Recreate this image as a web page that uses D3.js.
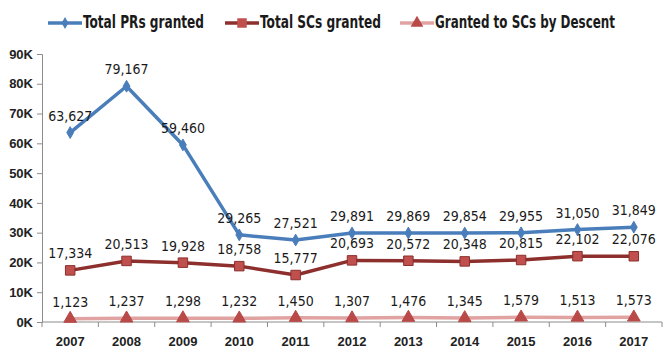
<!DOCTYPE html>
<html><head><meta charset="utf-8">
<script src="https://cdn.jsdelivr.net/npm/d3@7"></script>
<style>
body{margin:0;background:#fff;}
svg{display:block;}
text{font-family:"Liberation Sans Narrow","DejaVu Sans Condensed","Liberation Sans",sans-serif;}
</style></head><body>
<svg id="c" width="666" height="357"></svg>
<script>
const years = ["2007","2008","2009","2010","2011","2012","2013","2014","2015","2016","2017"];
const totalPRs = [63627,79167,59460,29265,27521,29891,29869,29854,29955,31050,31849];
const totalSCs = [17334,20513,19928,18758,15777,20693,20572,20348,20815,22102,22076];
const scsByDescent = [1123,1237,1298,1232,1450,1307,1476,1345,1579,1513,1573];
const yTicks = [0,10000,20000,30000,40000,50000,60000,70000,80000,90000];
const seriesNames = ["Total PRs granted","Total SCs granted","Granted to SCs by Descent"];

const svg = d3.select("#c");
const x = d3.scaleBand().domain(years).range([42,662]).padding(0);
const y = d3.scaleLinear().domain([0,90000]).range([322,54]);

// y axis
const ya = svg.append("g").attr("transform","translate(42,0)")
  .call(d3.axisLeft(y).tickValues(yTicks).tickSize(5).tickPadding(4)
    .tickFormat(d=>(d/1000)+"K"));
ya.selectAll("path,line").attr("stroke","#8c8c8c");
ya.selectAll("text").attr("font-size",13).attr("font-weight","bold").attr("fill","#222")
  .style("font-family","'Liberation Sans',sans-serif");

// x axis
const xa = svg.append("g").attr("transform","translate(0,322)");
xa.append("line").attr("x1",42).attr("x2",662).attr("stroke","#8c8c8c");
const bounds = years.map(d=>x(d)).concat([x(years[years.length-1])+x.bandwidth()]);
xa.selectAll("line.t").data(bounds).join("line").attr("class","t")
  .attr("x1",d=>d).attr("x2",d=>d).attr("y1",0).attr("y2",5).attr("stroke","#8c8c8c");
xa.selectAll("text").data(years).join("text")
  .attr("x",d=>x(d)+x.bandwidth()/2).attr("y",24).attr("text-anchor","middle")
  .attr("font-size",13).attr("font-weight","bold").attr("fill","#222")
  .style("font-family","'Liberation Sans',sans-serif").text(d=>d);

const cx = d=>x(d)+x.bandwidth()/2;
const series = [
  {name:seriesNames[0], vals:totalPRs, line:"#4a7ebb", mark:"#4a7ebb", shape:d3.symbolDiamond, size:40},
  {name:seriesNames[1], vals:totalSCs, line:"#8c2f2d", mark:"#c0504d", shape:d3.symbolSquare, size:90},
  {name:seriesNames[2], vals:scsByDescent, line:"#e0a3a2", mark:"#b94a48", shape:d3.symbolTriangle, size:70},
];
const fmt = d3.format(",");
series.slice().reverse().forEach(s=>{
  const pts = years.map((yr,i)=>[cx(yr), y(s.vals[i])]);
  svg.append("path").attr("d",d3.line()(pts)).attr("fill","none")
    .attr("stroke",s.line).attr("stroke-width",3.5).attr("stroke-linejoin","round");
  svg.selectAll(null).data(pts).join("path")
    .attr("transform",p=>`translate(${p[0]},${p[1]})`)
    .attr("d",d3.symbol().type(s.shape).size(s.size))
    .attr("fill",s.mark).attr("stroke",s.shape===d3.symbolSquare?"#8c2f2d":s.mark).attr("stroke-width",1);
  svg.selectAll(null).data(pts).join("text")
    .attr("x",p=>p[0]).attr("y",p=>p[1]-12).attr("text-anchor","middle")
    .attr("font-size",14).attr("fill","#1a1a1a")
    .text((p,i)=>fmt(s.vals[i]));
});

// legend
const leg = [{x:48,w:121},{x:225,w:121},{x:400,w:180}];
series.forEach((s,i)=>{
  const g = svg.append("g").attr("transform",`translate(${leg[i].x},23)`);
  g.append("line").attr("x1",0).attr("x2",34).attr("stroke",s.line).attr("stroke-width",3.5);
  g.append("path").attr("transform","translate(17,0)")
    .attr("d",d3.symbol().type(s.shape).size(s.size)).attr("fill",s.mark);
  g.append("text").attr("x",35).attr("y",5).attr("font-size",17).attr("font-weight","bold")
    .attr("fill","#1a1a1a").attr("textLength",leg[i].w).attr("lengthAdjust","spacingAndGlyphs")
    .text(s.name);
});
</script></body></html>
